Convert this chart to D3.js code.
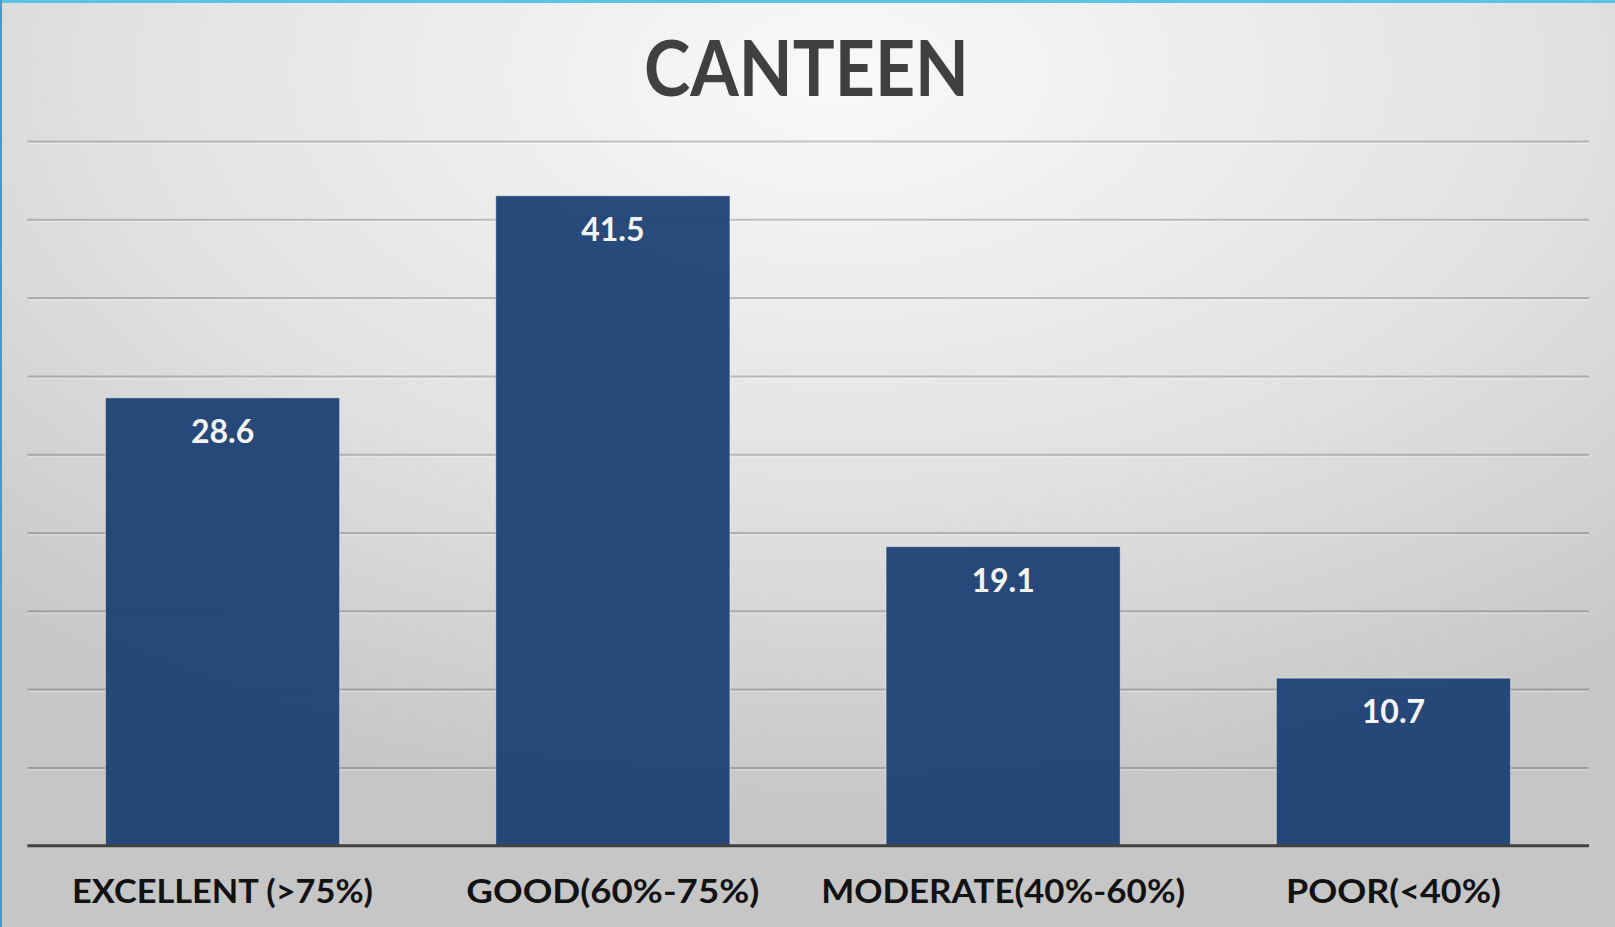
<!DOCTYPE html>
<html>
<head>
<meta charset="utf-8">
<script src="https://cdn.jsdelivr.net/npm/d3@7/dist/d3.min.js"></script>
<style>
  html, body { margin: 0; padding: 0; background: #d6d6d6; }
  svg { display: block; }
</style>
</head>
<body>
<svg id="chart" width="1615" height="927"></svg>
<script>
// Canteen rating shares (%)
const categories = ["EXCELLENT (>75%)", "GOOD(60%-75%)", "MODERATE(40%-60%)", "POOR(<40%)"];
const values = [28.6, 41.5, 19.1, 10.7];
const gridTicks = [0, 5, 10, 15, 20, 25, 30, 35, 40, 45];
const title = "CANTEEN";

const W = 1615, H = 927;
const svg = d3.select("#chart");

// Background: soft radial sheen, lighter near the top centre
const defs = svg.append("defs");
const grad = defs.append("radialGradient")
  .attr("id", "bg").attr("cx", "52%").attr("cy", "8%").attr("r", "80%")
  .attr("fx", "52%").attr("fy", "8%");
grad.append("stop").attr("offset", "0%").attr("stop-color", "#f9f9f9");
grad.append("stop").attr("offset", "55%").attr("stop-color", "#e2e2e2");
grad.append("stop").attr("offset", "100%").attr("stop-color", "#c6c6c6");
svg.append("rect").attr("width", W).attr("height", H).attr("fill", "url(#bg)");

// Slide frame accents
svg.append("rect").attr("x", 0).attr("y", 0).attr("width", W).attr("height", 3).attr("fill", "#5cc3e2");
svg.append("rect").attr("x", 0).attr("y", 0).attr("width", 2).attr("height", H).attr("fill", "#3a9fd0");

const x = d3.scaleBand().domain(categories).range([27.4, 1588.6])
  .paddingInner(0.4).paddingOuter(0.2);
const y = d3.scaleLinear().domain([0, 45]).range([845.7, 141]);

// Horizontal gridlines
const grid = svg.append("g").attr("transform", "translate(27.4,0)")
  .call(d3.axisLeft(y).tickValues(gridTicks.slice(1)).tickSize(-(1589 - 27.4)).tickFormat(""));
grid.select(".domain").remove();
grid.selectAll(".tick line").attr("stroke", "rgba(0,0,0,0.2)").attr("stroke-width", 2);
grid.selectAll(".tick").append("line")
  .attr("x1", 0).attr("x2", 1589 - 27.4).attr("y1", 2).attr("y2", 2)
  .attr("stroke", "rgba(255,255,255,0.35)").attr("stroke-width", 1);

// Bars
svg.append("g").selectAll("rect").data(values).join("rect")
  .attr("x", (d, i) => x(categories[i]))
  .attr("y", d => y(d))
  .attr("width", x.bandwidth())
  .attr("height", d => y(0) - y(d))
  .attr("fill", "#1e4174")
  .attr("fill-opacity", 0.95)
  .attr("stroke", "rgba(255,255,255,0.45)")
  .attr("stroke-width", 1);

// Value labels inside the bars
svg.append("g").selectAll("text").data(values).join("text")
  .attr("x", (d, i) => x(categories[i]) + x.bandwidth() / 2)
  .attr("y", d => y(d) + 45)
  .attr("text-anchor", "middle")
  .attr("font-family", "Lato, 'Open Sans', sans-serif")
  .attr("font-weight", 700)
  .attr("font-size", 32)
  .attr("fill", "#f4f4f4")
  .text(d => d.toFixed(1));

// Category axis
const xAxis = svg.append("g").attr("transform", `translate(0,${y(0)})`)
  .call(d3.axisBottom(x).tickSize(0).tickPadding(0));
xAxis.select(".domain").attr("stroke", "#414141").attr("stroke-width", 3)
  .attr("d", `M27.4,0H1589`);
const labelWidths = [301, 293, 364, 215];
xAxis.selectAll(".tick text")
  .attr("y", 902.7 - y(0)).attr("dy", 0)
  .attr("font-family", "Lato, 'Open Sans', sans-serif")
  .attr("font-weight", 700)
  .attr("font-size", 33)
  .attr("fill", "#121212")
  .attr("textLength", (d, i) => labelWidths[i])
  .attr("lengthAdjust", "spacingAndGlyphs");

// Title
svg.append("text")
  .attr("x", 806.5).attr("y", 96)
  .attr("text-anchor", "middle")
  .attr("font-family", "Lato, 'Open Sans', sans-serif")
  .attr("font-weight", 700)
  .attr("font-size", 76)
  .attr("fill", "#404040")
  .attr("textLength", 325)
  .attr("lengthAdjust", "spacingAndGlyphs")
  .text(title);
</script>
</body>
</html>
